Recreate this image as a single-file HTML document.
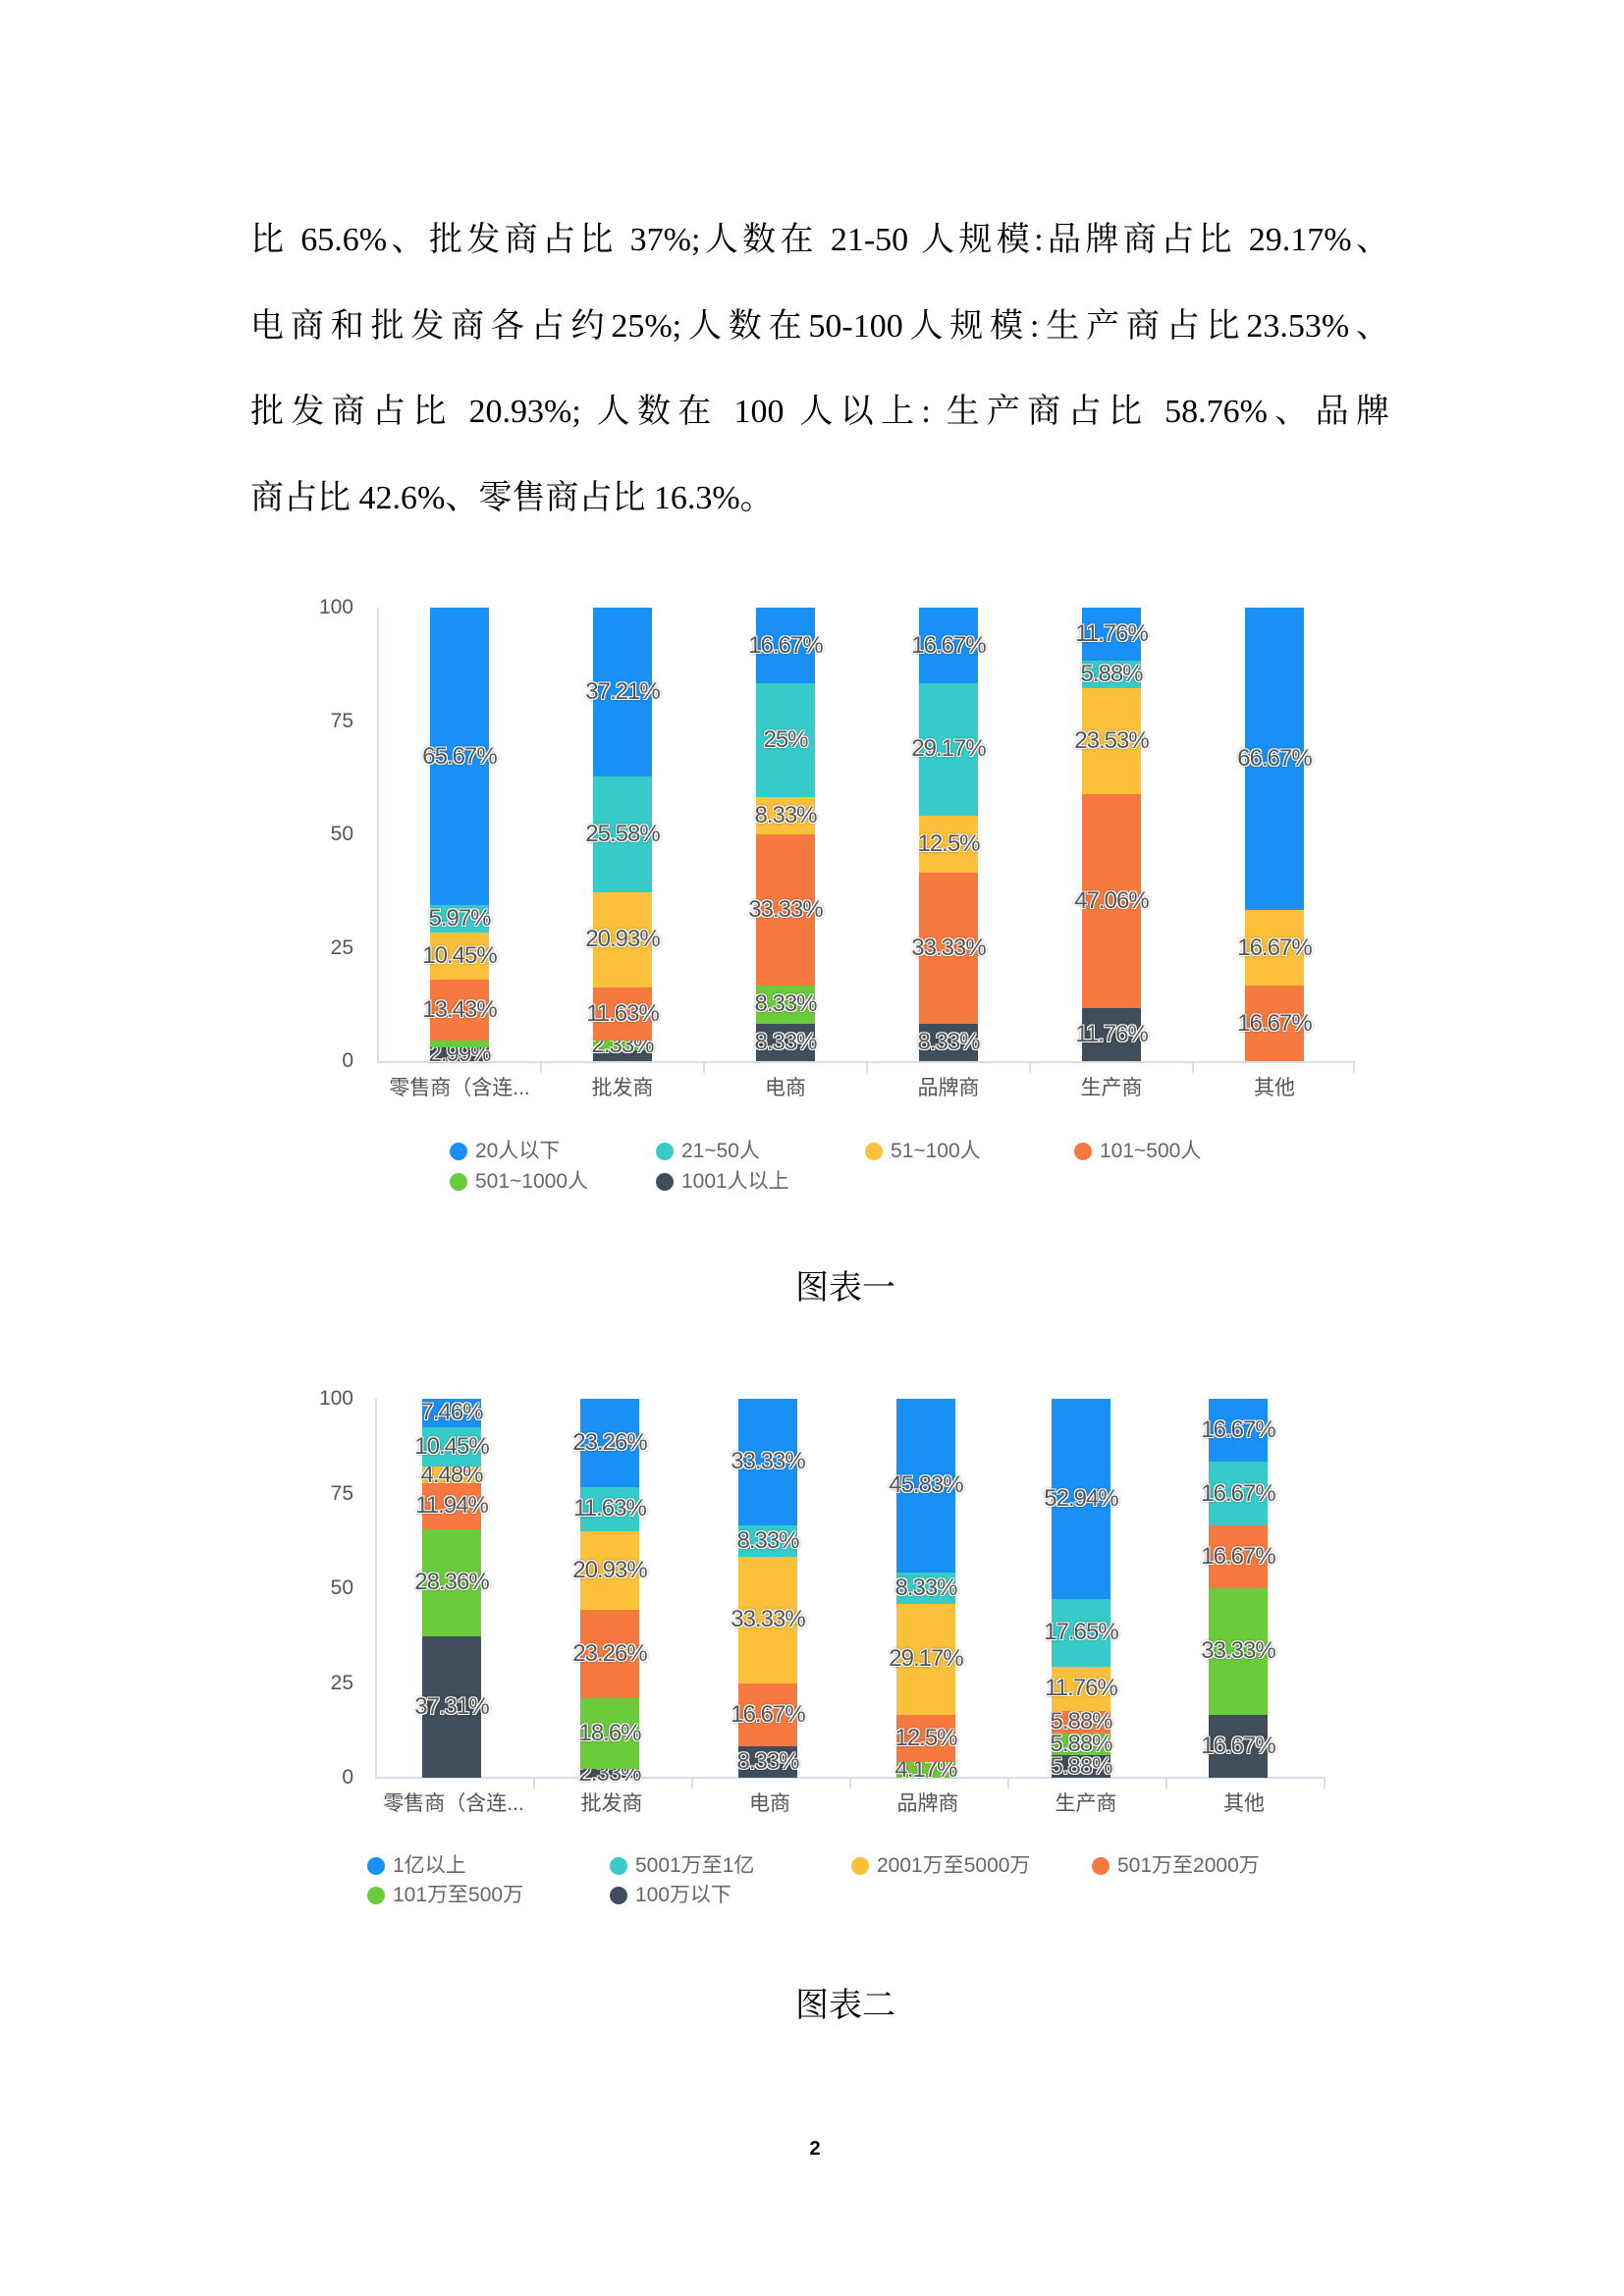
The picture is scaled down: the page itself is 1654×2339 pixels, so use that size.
<!DOCTYPE html>
<html><head><meta charset="utf-8">
<style>
body{margin:0;background:#fff;}
#pg{position:relative;width:1654px;height:2339px;overflow:hidden;background:#fff;}
.ln{position:absolute;left:255px;width:1160px;font-family:"Liberation Serif","Noto Serif CJK SC",serif;font-size:34px;color:#000;text-align:justify;text-align-last:justify;white-space:nowrap;line-height:40px;}
.ln.l{text-align-last:left;}
.ax{position:absolute;background:#d9dde6;}
.tk{position:absolute;font-family:"Liberation Sans","Noto Sans CJK SC",sans-serif;font-size:21px;color:#555;text-align:right;width:50px;line-height:22px;}
.cat{position:absolute;font-family:"Liberation Sans","Noto Sans CJK SC",sans-serif;font-size:21px;color:#555;width:160px;text-align:center;line-height:24px;}
.bar{position:absolute;width:60px;display:flex;flex-direction:column-reverse;}
.sg{position:relative;width:100%;}
.sg span{position:absolute;left:50%;top:50%;transform:translate(-50%,-50%);font-family:"Liberation Sans",sans-serif;font-size:24px;letter-spacing:-1px;color:#555;white-space:nowrap;line-height:24px;
text-shadow:-1px -1px 0 #fff,1px -1px 0 #fff,-1px 1px 0 #fff,1px 1px 0 #fff,0 0 3px #222;}
.lg{position:absolute;font-family:"Liberation Sans","Noto Sans CJK SC",sans-serif;font-size:21px;color:#666;line-height:24px;white-space:nowrap;}
.lg i{position:absolute;left:-26px;top:3px;width:18px;height:18px;border-radius:50%;}
.cap{position:absolute;font-family:"Liberation Serif","Noto Serif CJK SC",serif;font-size:34px;color:#000;width:300px;text-align:center;}
.B{background:#1890f5}.T{background:#36cbc8}.Y{background:#fbc13a}.O{background:#f67a3f}.G{background:#6acb3b}.D{background:#3f4e5a}
</style></head><body><div id="pg">

<div class="ln" style="top:225px">比 65.6%、批发商占比 37%;人数在 21-50 人规模:品牌商占比 29.17%、</div>
<div class="ln" style="top:313px">电商和批发商各占约25%;人数在50-100人规模:生产商占比23.53%、</div>
<div class="ln" style="top:400px">批发商占比 20.93%; 人数在 100 人以上: 生产商占比 58.76%、品牌</div>
<div class="ln l" style="top:488px">商占比 42.6%、零售商占比 16.3%。</div>

<!-- Chart 1 -->
<div class="ax" style="left:384px;top:619px;width:2px;height:463px"></div>
<div class="ax" style="left:384px;top:1081px;width:996px;height:2px"></div>
<div class="ax" style="left:550px;top:1081px;width:2px;height:12px"></div>
<div class="ax" style="left:716px;top:1081px;width:2px;height:12px"></div>
<div class="ax" style="left:882px;top:1081px;width:2px;height:12px"></div>
<div class="ax" style="left:1048px;top:1081px;width:2px;height:12px"></div>
<div class="ax" style="left:1214px;top:1081px;width:2px;height:12px"></div>
<div class="ax" style="left:1378px;top:1081px;width:2px;height:12px"></div>
<div class="tk" style="left:310px;top:608px">100</div>
<div class="tk" style="left:310px;top:724px">75</div>
<div class="tk" style="left:310px;top:839px">50</div>
<div class="tk" style="left:310px;top:955px">25</div>
<div class="tk" style="left:310px;top:1070px">0</div>

<div class="bar" style="left:438px;top:619px;height:462px">
<div class="sg D" style="height:2.99%"><span>2.99%</span></div>
<div class="sg G" style="height:1.49%"></div>
<div class="sg O" style="height:13.43%"><span>13.43%</span></div>
<div class="sg Y" style="height:10.45%"><span>10.45%</span></div>
<div class="sg T" style="height:5.97%"><span>5.97%</span></div>
<div class="sg B" style="height:65.67%"><span>65.67%</span></div></div>
<div class="bar" style="left:604px;top:619px;height:462px">
<div class="sg D" style="height:2.33%"></div>
<div class="sg G" style="height:2.33%"><span>2.33%</span></div>
<div class="sg O" style="height:11.63%"><span>11.63%</span></div>
<div class="sg Y" style="height:20.93%"><span>20.93%</span></div>
<div class="sg T" style="height:25.58%"><span>25.58%</span></div>
<div class="sg B" style="height:37.21%"><span>37.21%</span></div></div>
<div class="bar" style="left:770px;top:619px;height:462px">
<div class="sg D" style="height:8.33%"><span>8.33%</span></div>
<div class="sg G" style="height:8.33%"><span>8.33%</span></div>
<div class="sg O" style="height:33.33%"><span>33.33%</span></div>
<div class="sg Y" style="height:8.33%"><span>8.33%</span></div>
<div class="sg T" style="height:25%"><span>25%</span></div>
<div class="sg B" style="height:16.67%"><span>16.67%</span></div></div>
<div class="bar" style="left:936px;top:619px;height:462px">
<div class="sg D" style="height:8.33%"><span>8.33%</span></div>
<div class="sg O" style="height:33.33%"><span>33.33%</span></div>
<div class="sg Y" style="height:12.5%"><span>12.5%</span></div>
<div class="sg T" style="height:29.17%"><span>29.17%</span></div>
<div class="sg B" style="height:16.67%"><span>16.67%</span></div></div>
<div class="bar" style="left:1102px;top:619px;height:462px">
<div class="sg D" style="height:11.76%"><span>11.76%</span></div>
<div class="sg O" style="height:47.06%"><span>47.06%</span></div>
<div class="sg Y" style="height:23.53%"><span>23.53%</span></div>
<div class="sg T" style="height:5.88%"><span>5.88%</span></div>
<div class="sg B" style="height:11.77%"><span>11.76%</span></div></div>
<div class="bar" style="left:1268px;top:619px;height:462px">
<div class="sg O" style="height:16.67%"><span>16.67%</span></div>
<div class="sg Y" style="height:16.67%"><span>16.67%</span></div>
<div class="sg B" style="height:66.66%"><span>66.67%</span></div></div>

<div class="cat" style="left:388px;top:1097px">零售商（含连...</div>
<div class="cat" style="left:554px;top:1097px">批发商</div>
<div class="cat" style="left:720px;top:1097px">电商</div>
<div class="cat" style="left:886px;top:1097px">品牌商</div>
<div class="cat" style="left:1052px;top:1097px">生产商</div>
<div class="cat" style="left:1218px;top:1097px">其他</div>

<div class="lg" style="left:484px;top:1161px"><i class="B"></i>20人以下</div>
<div class="lg" style="left:694px;top:1161px"><i class="T"></i>21~50人</div>
<div class="lg" style="left:907px;top:1161px"><i class="Y"></i>51~100人</div>
<div class="lg" style="left:1120px;top:1161px"><i class="O"></i>101~500人</div>
<div class="lg" style="left:484px;top:1192px"><i class="G"></i>501~1000人</div>
<div class="lg" style="left:694px;top:1192px"><i class="D"></i>1001人以上</div>

<div class="cap" style="left:711px;top:1284px">图表一</div>

<!-- Chart 2 -->
<div class="ax" style="left:382px;top:1425px;width:2px;height:386px"></div>
<div class="ax" style="left:382px;top:1810px;width:968px;height:2px"></div>
<div class="ax" style="left:543px;top:1810px;width:2px;height:12px"></div>
<div class="ax" style="left:704px;top:1810px;width:2px;height:12px"></div>
<div class="ax" style="left:865px;top:1810px;width:2px;height:12px"></div>
<div class="ax" style="left:1026px;top:1810px;width:2px;height:12px"></div>
<div class="ax" style="left:1187px;top:1810px;width:2px;height:12px"></div>
<div class="ax" style="left:1348px;top:1810px;width:2px;height:12px"></div>
<div class="tk" style="left:310px;top:1414px">100</div>
<div class="tk" style="left:310px;top:1511px">75</div>
<div class="tk" style="left:310px;top:1607px">50</div>
<div class="tk" style="left:310px;top:1704px">25</div>
<div class="tk" style="left:310px;top:1800px">0</div>

<div class="bar" style="left:430px;top:1425px;height:386px">
<div class="sg D" style="height:37.31%"><span>37.31%</span></div>
<div class="sg G" style="height:28.36%"><span>28.36%</span></div>
<div class="sg O" style="height:11.94%"><span>11.94%</span></div>
<div class="sg Y" style="height:4.48%"><span>4.48%</span></div>
<div class="sg T" style="height:10.45%"><span>10.45%</span></div>
<div class="sg B" style="height:7.46%"><span>7.46%</span></div></div>
<div class="bar" style="left:591px;top:1425px;height:386px">
<div class="sg D" style="height:2.33%"><span>2.33%</span></div>
<div class="sg G" style="height:18.6%"><span>18.6%</span></div>
<div class="sg O" style="height:23.26%"><span>23.26%</span></div>
<div class="sg Y" style="height:20.93%"><span>20.93%</span></div>
<div class="sg T" style="height:11.63%"><span>11.63%</span></div>
<div class="sg B" style="height:23.25%"><span>23.26%</span></div></div>
<div class="bar" style="left:752px;top:1425px;height:386px">
<div class="sg D" style="height:8.33%"><span>8.33%</span></div>
<div class="sg O" style="height:16.67%"><span>16.67%</span></div>
<div class="sg Y" style="height:33.33%"><span>33.33%</span></div>
<div class="sg T" style="height:8.33%"><span>8.33%</span></div>
<div class="sg B" style="height:33.34%"><span>33.33%</span></div></div>
<div class="bar" style="left:913px;top:1425px;height:386px">
<div class="sg G" style="height:4.17%"><span>4.17%</span></div>
<div class="sg O" style="height:12.5%"><span>12.5%</span></div>
<div class="sg Y" style="height:29.17%"><span>29.17%</span></div>
<div class="sg T" style="height:8.33%"><span>8.33%</span></div>
<div class="sg B" style="height:45.83%"><span>45.83%</span></div></div>
<div class="bar" style="left:1071px;top:1425px;height:386px">
<div class="sg D" style="height:5.88%"><span>5.88%</span></div>
<div class="sg G" style="height:5.88%"><span>5.88%</span></div>
<div class="sg O" style="height:5.88%"><span>5.88%</span></div>
<div class="sg Y" style="height:11.76%"><span>11.76%</span></div>
<div class="sg T" style="height:17.65%"><span>17.65%</span></div>
<div class="sg B" style="height:52.95%"><span>52.94%</span></div></div>
<div class="bar" style="left:1231px;top:1425px;height:386px">
<div class="sg D" style="height:16.67%"><span>16.67%</span></div>
<div class="sg G" style="height:33.33%"><span>33.33%</span></div>
<div class="sg O" style="height:16.67%"><span>16.67%</span></div>
<div class="sg T" style="height:16.67%"><span>16.67%</span></div>
<div class="sg B" style="height:16.66%"><span>16.67%</span></div></div>

<div class="cat" style="left:382px;top:1826px">零售商（含连...</div>
<div class="cat" style="left:543px;top:1826px">批发商</div>
<div class="cat" style="left:704px;top:1826px">电商</div>
<div class="cat" style="left:865px;top:1826px">品牌商</div>
<div class="cat" style="left:1026px;top:1826px">生产商</div>
<div class="cat" style="left:1187px;top:1826px">其他</div>

<div class="lg" style="left:400px;top:1889px"><i class="B"></i>1亿以上</div>
<div class="lg" style="left:647px;top:1889px"><i class="T"></i>5001万至1亿</div>
<div class="lg" style="left:893px;top:1889px"><i class="Y"></i>2001万至5000万</div>
<div class="lg" style="left:1138px;top:1889px"><i class="O"></i>501万至2000万</div>
<div class="lg" style="left:400px;top:1919px"><i class="G"></i>101万至500万</div>
<div class="lg" style="left:647px;top:1919px"><i class="D"></i>100万以下</div>

<div class="cap" style="left:711px;top:2015px">图表二</div>

<div style="position:absolute;left:815px;top:2178px;width:30px;text-align:center;font-family:'Liberation Sans',sans-serif;font-size:20px;font-weight:bold;color:#000">2</div>
</div></body></html>
